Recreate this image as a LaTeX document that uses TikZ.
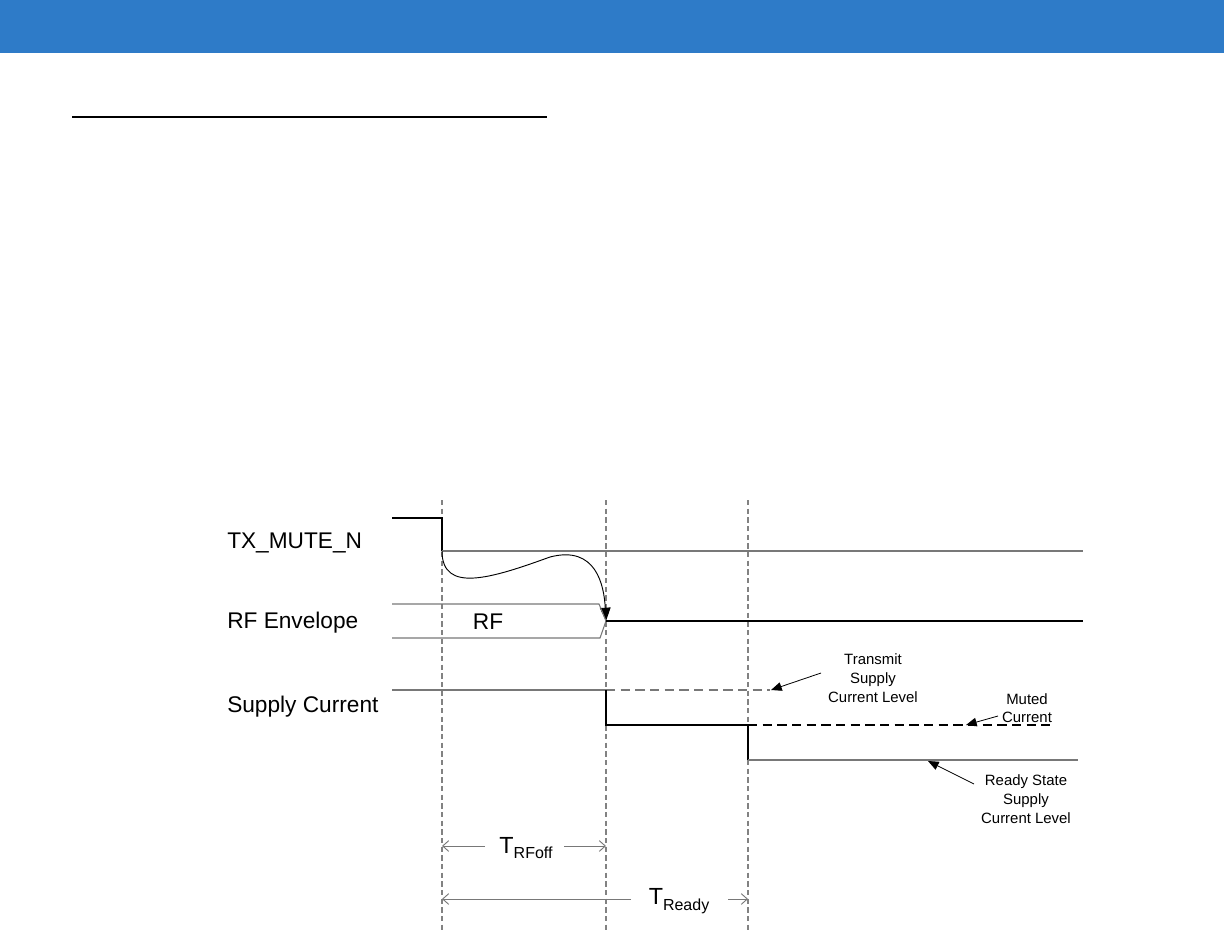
\documentclass[tikz,border=0pt]{standalone}
\usepackage{fontspec}
\setmainfont{Liberation Sans}
\usetikzlibrary{arrows.meta}
\definecolor{band}{RGB}{46,123,200}
\definecolor{lg}{RGB}{120,120,120}
\definecolor{vg}{RGB}{130,130,130}
\tikzset{
  sig/.style={black,line width=1.2pt},
  gsig/.style={lg,line width=0.8pt},
  guide/.style={vg,line width=0.9pt,dash pattern=on 4pt off 2.5pt},
  lab/.style={font=\fontsize{17}{20}\selectfont,anchor=west,inner sep=0pt},
  note/.style={font=\fontsize{11.2}{14}\selectfont,align=center,inner sep=0pt},
  tarrow/.style={lg,line width=0.7pt,-{Straight Barb[length=4.5pt,width=8pt]}},
  narrow/.style={black,line width=0.6pt,-{Triangle[length=8pt,width=6.5pt]}}
}
\begin{document}
\begin{tikzpicture}[x=0.75pt,y=-0.75pt]
\useasboundingbox (0,0) rectangle (1224,932);
% header band
\fill[band] (0,0) rectangle (1224,53);
\draw[black,line width=2.2pt] (72,117) -- (547,117);
% guides
\coordinate (g1t) at (442,500); \coordinate (g1b) at (442,932);
\coordinate (g2t) at (606,500); \coordinate (g2b) at (606,932);
\coordinate (g3t) at (748,500); \coordinate (g3b) at (748,932);
\draw[guide] (g1t) -- (g1b);
\draw[guide] (g2t) -- (g2b);
\draw[guide] (g3t) -- (g3b);
% labels
\node[lab] (ltx) at (227,543) {TX\_MUTE\_N};
\node[lab] (lrf) at (227,623) {RF Envelope};
\node[lab] (lsc) at (227,707) {Supply Current};
% TX_MUTE_N
\coordinate (t0) at (392,518); \coordinate (t1) at (442,518);
\coordinate (t2) at (442,551); \coordinate (t3) at (1083,551);
\draw[sig] (t0) -- (t1) -- (t2);
\draw[gsig] (t2) -- (t3);
% causal curve
\coordinate (rfx) at (606,621);
\draw[black,line width=0.7pt,-{Triangle[length=10pt,width=8pt]}] (t2) .. controls (442,594) and (492,578) .. (550,557) .. controls (596,545) and (604,585) .. (rfx);
% RF envelope
\coordinate (r0) at (392,604); \coordinate (r1) at (599,604);
\coordinate (r2) at (392,638); \coordinate (r3) at (600,638);
\coordinate (r4) at (1083,621);
\draw[gsig] (r0) -- (r1) -- (rfx) -- (r3) -- (r2);
\draw[sig] (rfx) -- (r4);
\node[font=\fontsize{17}{20}\selectfont,inner sep=0pt] (rf) at (488,622) {RF};
% Supply current
\coordinate (s0) at (392,690); \coordinate (s1) at (606,690);
\coordinate (s2) at (606,725); \coordinate (s3) at (748,725);
\coordinate (s4) at (748,760); \coordinate (s5) at (1078,760);
\coordinate (sd1) at (770,690); \coordinate (sd2) at (1050,725);
\draw[gsig] (s0) -- (s1);
\draw[lg,line width=0.8pt,dash pattern=on 7pt off 4pt] (s1) -- (sd1);
\draw[sig] (s1) -- (s2) -- (s3) -- (s4);
\draw[black,line width=1.2pt,dash pattern=on 7pt off 4pt] (s3) -- (sd2);
\draw[gsig] (s4) -- (s5);
% notes
\node[note] (ntx) at (873,678) {Transmit\\Supply\\Current Level};
\node[note] (nmu) at (1027,708) {Muted\\Current};
\node[note] (nrd) at (1026,799) {Ready State\\Supply\\Current Level};
\coordinate (a1s) at (821,673); \coordinate (a1e) at (771,690);
\coordinate (a2s) at (998,716); \coordinate (a2e) at (966,725);
\coordinate (a3s) at (974,784); \coordinate (a3e) at (928,761);
\draw[narrow] (a1s) -- (a1e);
\draw[narrow] (a2s) -- (a2e);
\draw[narrow] (a3s) -- (a3e);
% timing
\node[inner sep=0pt] (trf) at (526,848) {\fontsize{17.5}{20}\selectfont T\raisebox{-0.45ex}{\fontsize{12}{14}\selectfont RFoff}};
\node[inner sep=0pt] (trd) at (679,901) {\fontsize{17.5}{20}\selectfont T\raisebox{-0.45ex}{\fontsize{12}{14}\selectfont Ready}};
\coordinate (tr1) at (442,846); \coordinate (tr2) at (606,846);
\coordinate (tr3) at (442,899); \coordinate (tr4) at (748,899);
\coordinate (tra) at (485,846); \coordinate (trb) at (564,846);
\coordinate (trc) at (631,899); \coordinate (trd2) at (728,899);
\draw[tarrow] (tra) -- (tr1);
\draw[tarrow] (trb) -- (tr2);
\draw[tarrow] (trc) -- (tr3);
\draw[tarrow] (trd2) -- (tr4);
\end{tikzpicture}
\end{document}
